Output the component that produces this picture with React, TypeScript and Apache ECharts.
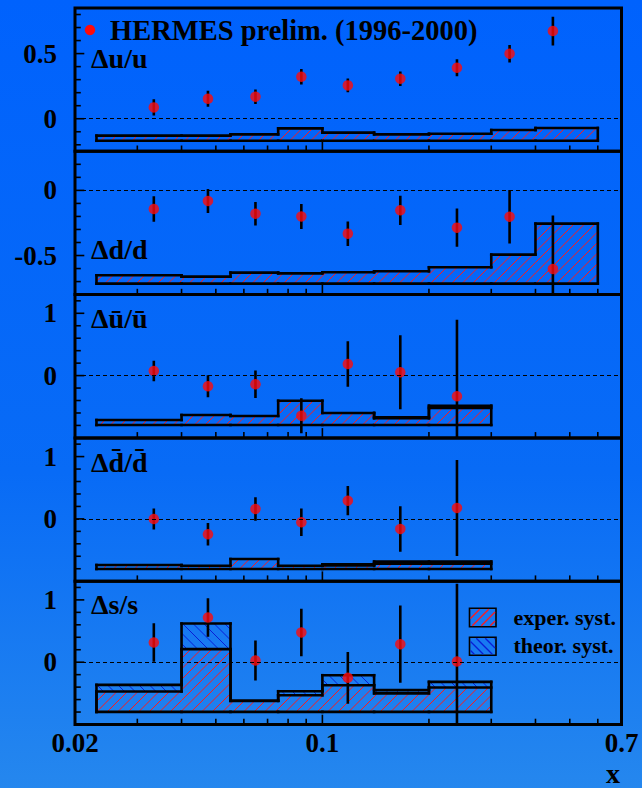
import React, { useEffect, useRef } from 'react';
import * as echarts from 'echarts';

// ---------- data ----------
const binEdges = [0.023, 0.04, 0.055, 0.075, 0.1, 0.14, 0.2, 0.3, 0.4, 0.6];
const xMeans = [0.0334, 0.0475, 0.0647, 0.0872, 0.118, 0.166, 0.24, 0.338, 0.448];

const panelLabels = ['Δu/u', 'Δd/d', 'Δū/ū', 'Δd\u0304/d\u0304', 'Δs/s'];

const duOverU = [0.087, 0.153, 0.169, 0.322, 0.256, 0.307, 0.391, 0.499, 0.673];
const duOverUErr = [0.062, 0.061, 0.056, 0.059, 0.053, 0.055, 0.065, 0.067, 0.11];
const duOverUExpSyst = [0.039, 0.039, 0.049, 0.095, 0.062, 0.049, 0.054, 0.082, 0.098];
const duOverUTheoSyst = [0, 0, 0, 0, 0, 0, 0, 0, 0];

const ddOverD = [-0.143, -0.081, -0.179, -0.2, -0.332, -0.153, -0.286, -0.202, -0.603];
const ddOverDErr = [0.098, 0.092, 0.09, 0.096, 0.094, 0.112, 0.146, 0.205, 0.41];
const ddOverDExpSyst = [0.064, 0.054, 0.085, 0.079, 0.087, 0.095, 0.126, 0.223, 0.461];
const ddOverDTheoSyst = [0, 0, 0, 0, 0, 0, 0, 0, 0];

const dubarOverUbar = [0.074, -0.172, -0.14, -0.644, 0.186, 0.053, -0.332];
const dubarOverUbarErr = [0.165, 0.177, 0.22, 0.28, 0.365, 0.595, 1.23];
const dubarOverUbarExpSyst = [0.08, 0.161, 0.145, 0.39, 0.193, 0.108, 0.273];
const dubarOverUbarTheoSyst = [0, 0, 0, 0, 0, 0.016, 0.037];

const ddbarOverDbar = [-0.002, -0.247, 0.159, -0.055, 0.292, -0.162, 0.175];
const ddbarOverDbarErr = [0.17, 0.18, 0.19, 0.22, 0.235, 0.365, 0.77];
const ddbarOverDbarExpSyst = [0.064, 0.053, 0.16, 0.053, 0.055, 0.085, 0.085];
const ddbarOverDbarTheoSyst = [0, 0, 0, 0, 0.02, 0.033, 0.033];

const dsOverS = [0.316, 0.717, 0.027, 0.477, -0.25, 0.289, 0.011];
const dsOverSErr = [0.31, 0.31, 0.32, 0.38, 0.415, 0.62, 1.25];
const dsOverSExpSyst = [0.328, 1.007, 0.177, 0.268, 0.429, 0.298, 0.392];
const dsOverSTheoSyst = [0.106, 0.412, 0.003, 0.064, 0.16, 0.051, 0.09];

const systBaselines = [-0.169, -0.716, -0.793, -0.804, -0.798];
const yRanges = [[-0.25, 0.85], [-0.8, 0.3], [-1, 1.3], [-1, 1.3], [-1, 1.3]];
const yLabelValues = [[0, 0.5], [-0.5, 0], [0, 1], [0, 1], [0, 1]];
const yTickValues = [
  [-0.2, -0.1, 0, 0.1, 0.2, 0.3, 0.4, 0.5, 0.6, 0.7, 0.8],
  [-0.7, -0.6, -0.5, -0.4, -0.3, -0.2, -0.1, 0, 0.1, 0.2],
  [-0.8, -0.6, -0.4, -0.2, 0, 0.2, 0.4, 0.6, 0.8, 1, 1.2],
  [-0.8, -0.6, -0.4, -0.2, 0, 0.2, 0.4, 0.6, 0.8, 1, 1.2],
  [-0.8, -0.6, -0.4, -0.2, 0, 0.2, 0.4, 0.6, 0.8, 1, 1.2],
];
const xTickValues = [0.03, 0.04, 0.05, 0.06, 0.07, 0.08, 0.09, 0.1, 0.2, 0.3, 0.4, 0.5, 0.6];
const xMajorTickValues = [0.1];
const xMin = 0.02;
const xMax = 0.7;

const legendTitle = 'HERMES prelim. (1996-2000)';
const legendExper = 'exper. syst.';
const legendTheor = 'theor. syst.';
const xAxisTitle = 'x';

const panelValues = [duOverU, ddOverD, dubarOverUbar, ddbarOverDbar, dsOverS];
const panelErrors = [duOverUErr, ddOverDErr, dubarOverUbarErr, ddbarOverDbarErr, dsOverSErr];
const panelExpSyst = [duOverUExpSyst, ddOverDExpSyst, dubarOverUbarExpSyst, ddbarOverDbarExpSyst, dsOverSExpSyst];
const panelTheoSyst = [duOverUTheoSyst, ddOverDTheoSyst, dubarOverUbarTheoSyst, ddbarOverDbarTheoSyst, dsOverSTheoSyst];

// ---------- layout / style ----------
const FONT = '"Liberation Serif", "Times New Roman", serif';
const GRID_LEFT = 75;
const GRID_RIGHT = 20.5;
const GRID_TOP = 8;
const PANEL_H = 143.3;
const RED = '#ff0a0a';
const HATCH_RED = '#ff1a1a';
const HATCH_BLUE = '#0a1ed6';
const HATCH_STEP = 10.5;
const labelBaselines = [68.3, 259.3, 328.3, 471.7, 614.3];

function hatch(x0: number, x1: number, yTop: number, yBot: number, s: number, dir: string, stroke: string, w = 1) {
  const out: any[] = [];
  if (x1 - x0 < 0.5 || yBot - yTop < 0.5) return out;
  if (dir === '/') {
    const kA = Math.ceil((x0 + yTop) / s);
    const kB = Math.floor((x1 + yBot) / s);
    for (let k = kA; k <= kB; k++) {
      const c = k * s;
      const lo = Math.max(x0, c - yBot);
      const hi = Math.min(x1, c - yTop);
      if (hi - lo > 0.2) {
        out.push({ type: 'line', silent: true, z: 10, shape: { x1: lo, y1: c - lo, x2: hi, y2: c - hi }, style: { stroke, lineWidth: w } });
      }
    }
  } else {
    const kA = Math.ceil((yTop - x1) / s);
    const kB = Math.floor((yBot - x0) / s);
    for (let k = kA; k <= kB; k++) {
      const c = k * s;
      const lo = Math.max(x0, yTop - c);
      const hi = Math.min(x1, yBot - c);
      if (hi - lo > 0.2) {
        out.push({ type: 'line', silent: true, z: 10, shape: { x1: lo, y1: lo + c, x2: hi, y2: hi + c }, style: { stroke, lineWidth: w } });
      }
    }
  }
  return out;
}

function seg(x1: number, y1: number, x2: number, y2: number, w = 2.6) {
  return { type: 'line', silent: true, shape: { x1, y1, x2, y2 }, style: { stroke: '#000', lineWidth: w, lineCap: 'square' } };
}

function buildOption() {
  const grids: any[] = [];
  const xAxes: any[] = [];
  const yAxes: any[] = [];
  const series: any[] = [];
  const graphics: any[] = [];

  for (let p = 0; p < 5; p++) {
    grids.push({
      left: GRID_LEFT,
      right: GRID_RIGHT,
      top: GRID_TOP + p * PANEL_H,
      height: PANEL_H,
      show: true,
      borderColor: '#000',
      borderWidth: 3,
      backgroundColor: 'transparent',
    });
    xAxes.push({
      type: 'log',
      logBase: 10,
      gridIndex: p,
      min: xMin,
      max: xMax,
      axisLine: { show: false },
      axisTick: { show: false },
      splitLine: { show: false },
      axisLabel:
        p === 4
          ? {
              show: true,
              showMinLabel: true,
              showMaxLabel: true,
              margin: 5,
              fontSize: 27,
              fontWeight: 'bold',
              fontFamily: FONT,
              color: '#000',
              formatter: (v: number) => String(+Number(v).toPrecision(3)),
            }
          : { show: false },
    });
    yAxes.push({
      type: 'value',
      gridIndex: p,
      min: yRanges[p][0],
      max: yRanges[p][1],
      axisLine: { show: false },
      axisTick: { show: false },
      splitLine: { show: false },
      axisLabel: {
        customValues: yLabelValues[p],
        margin: 18,
        fontSize: 27,
        fontWeight: 'bold',
        fontFamily: FONT,
        color: '#000',
        formatter: (v: number) => String(+Number(v).toFixed(2)),
      },
    });

    const base = systBaselines[p];
    const exp = panelExpSyst[p];
    const theo = panelTheoSyst[p];
    const nBins = exp.length;
    const bandData = exp.map((e, k) => {
      const et = base + e;
      const tt = base + e + theo[k];
      const pet = k > 0 ? base + exp[k - 1] : base;
      const ptt = k > 0 ? base + exp[k - 1] + theo[k - 1] : base;
      return [binEdges[k], binEdges[k + 1], base, et, tt, pet, ptt, k === nBins - 1 ? 1 : 0];
    });

    series.push({
      type: 'custom',
      xAxisIndex: p,
      yAxisIndex: p,
      z: 2,
      silent: true,
      encode: { x: [0, 1], y: [2, 3, 4] },
      data: bandData,
      renderItem: (params: any, api: any) => {
        const lo = api.value(0);
        const hi = api.value(1);
        const b = api.value(2);
        const et = api.value(3);
        const tt = api.value(4);
        const pet = api.value(5);
        const ptt = api.value(6);
        const last = api.value(7) === 1;
        const pLB = api.coord([lo, b]);
        const pHB = api.coord([hi, b]);
        const x0 = pLB[0];
        const x1 = pHB[0];
        const yB = pLB[1];
        const yE = api.coord([lo, et])[1];
        const yT = api.coord([lo, tt])[1];
        const yPE = api.coord([lo, pet])[1];
        const yPT = api.coord([lo, ptt])[1];
        const children: any[] = [];
        children.push(...hatch(x0, x1, yE, yB, HATCH_STEP, '/', HATCH_RED));
        if (yE - yT > 0.5) children.push(...hatch(x0, x1, yT, yE, HATCH_STEP, '\\', HATCH_BLUE));
        children.push(seg(x0, yB, x1, yB));
        children.push(seg(x0, yE, x1, yE));
        children.push(seg(x0, yPE, x0, yE));
        if (yE - yT > 0.5 || Math.abs(yPT - yPE) > 0.5) {
          children.push(seg(x0, yT, x1, yT));
          children.push(seg(x0, yPT, x0, yT));
        }
        if (last) children.push(seg(x1, yT, x1, yB));
        return { type: 'group', children };
      },
    });

    const vals = panelValues[p];
    const errs = panelErrors[p];
    series.push({
      type: 'custom',
      xAxisIndex: p,
      yAxisIndex: p,
      z: 3,
      clip: true,
      silent: true,
      encode: { x: 0, y: 1 },
      data: vals.map((v, k) => [xMeans[k], v, errs[k]]),
      renderItem: (params: any, api: any) => {
        const x = api.value(0);
        const y = api.value(1);
        const e = api.value(2);
        const a = api.coord([x, y - e]);
        const c = api.coord([x, y + e]);
        return { type: 'line', shape: { x1: a[0], y1: a[1], x2: c[0], y2: c[1] }, style: { stroke: '#000', lineWidth: 2.6 } };
      },
    });

    series.push({
      type: 'scatter',
      xAxisIndex: p,
      yAxisIndex: p,
      z: 4,
      symbol: 'circle',
      symbolSize: 10.5,
      itemStyle: { color: RED },
      silent: true,
      data: vals.map((v, k) => [xMeans[k], v]),
      markLine: {
        silent: true,
        symbol: ['none', 'none'],
        label: { show: false },
        lineStyle: { color: '#000', type: [4, 3], width: 1 },
        data: [{ yAxis: 0 }],
      },
    });

    const tickData: any[] = [];
    xTickValues.forEach((t) => tickData.push([t, yRanges[p][0], 1, xMajorTickValues.includes(t) ? 1 : 0]));
    yTickValues[p].forEach((t) => tickData.push([xMin, t, 0, yLabelValues[p].includes(t) ? 1 : 0]));
    series.push({
      type: 'custom',
      xAxisIndex: p,
      yAxisIndex: p,
      z: 5,
      silent: true,
      encode: { x: 0, y: 1 },
      data: tickData,
      renderItem: (params: any, api: any) => {
        const pt = api.coord([api.value(0), api.value(1)]);
        const isX = api.value(2) === 1;
        const major = api.value(3) === 1;
        if (isX) {
          const len = major ? 9 : 5;
          return seg(pt[0], pt[1], pt[0], pt[1] - len, 1.6);
        }
        const len = major ? 8.5 : 5;
        return seg(pt[0], pt[1], pt[0] + len, pt[1], 1.6);
      },
    });

    graphics.push({
      type: 'text',
      silent: true,
      x: 91,
      y: labelBaselines[p] - 9.5,
      style: {
        text: panelLabels[p],
        font: `bold 28px ${FONT}`,
        fill: '#000',
        textAlign: 'left',
        align: 'left',
        textVerticalAlign: 'middle',
        verticalAlign: 'middle',
      },
    });
  }

  // top legend
  graphics.push({ type: 'circle', silent: true, shape: { cx: 90, cy: 30, r: 5.2 }, style: { fill: RED } });
  graphics.push({
    type: 'text',
    silent: true,
    x: 110,
    y: 30,
    style: { text: legendTitle, font: `bold 28.5px ${FONT}`, fill: '#000', textAlign: 'left', align: 'left', textVerticalAlign: 'middle', verticalAlign: 'middle' },
  });

  // systematics legend
  const bx = 469.5;
  const bw = 26.5;
  const boxes = [
    { y: 608.3, h: 18.4, dir: '/', color: HATCH_RED, text: legendExper, ty: 617 },
    { y: 637.3, h: 18, dir: '\\', color: HATCH_BLUE, text: legendTheor, ty: 645.5 },
  ];
  boxes.forEach((b) => {
    graphics.push({ type: 'rect', silent: true, z: 9, shape: { x: bx, y: b.y, width: bw, height: b.h }, style: { fill: 'transparent', stroke: '#000', lineWidth: 1.6 } });
    graphics.push(...hatch(bx + 1, bx + bw - 1, b.y + 1, b.y + b.h - 1, 9, b.dir, b.color, 1.3));
    graphics.push({
      type: 'text',
      silent: true,
      x: 513.5,
      y: b.ty,
      style: { text: b.text, font: `bold 22px ${FONT}`, fill: '#000', textAlign: 'left', align: 'left', textVerticalAlign: 'middle', verticalAlign: 'middle' },
    });
  });

  // x axis title
  graphics.push({
    type: 'text',
    silent: true,
    x: 620,
    y: 773,
    style: {
      text: xAxisTitle,
      font: `bold 28px ${FONT}`,
      fill: '#000',
      textAlign: 'right',
      align: 'right',
      textVerticalAlign: 'middle',
      verticalAlign: 'middle',
    },
  });

  return {
    animation: false,
    backgroundColor: new echarts.graphic.LinearGradient(0, 0, 0, 1, [
      { offset: 0, color: '#0062fd' },
      { offset: 0.6, color: '#086bf6' },
      { offset: 1, color: '#2587ee' },
    ]),
    grid: grids,
    xAxis: xAxes,
    yAxis: yAxes,
    series,
    graphic: { elements: graphics },
  };
}

export default function App() {
  const ref = useRef<HTMLDivElement>(null);
  useEffect(() => {
    const chart = echarts.init(ref.current as HTMLDivElement, null, { renderer: 'svg' });
    chart.setOption(buildOption() as any);
    return () => chart.dispose();
  }, []);
  return <div ref={ref} style={{ position: 'fixed', left: 0, top: 0, width: 642, height: 788 }} />;
}
